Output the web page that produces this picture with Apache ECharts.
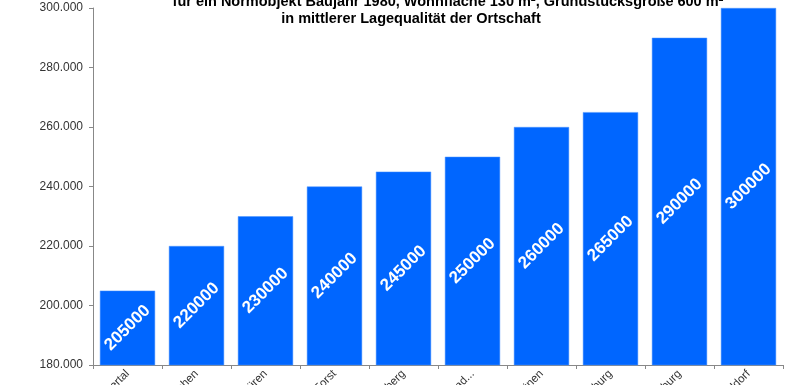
<!DOCTYPE html>
<html>
<head>
<meta charset="utf-8">
<script src="https://cdn.jsdelivr.net/npm/echarts@6/dist/echarts.min.js"></script>
<style>html,body{margin:0;padding:0;background:#fff}#c{width:795px;height:385px}</style>
</head>
<body>
<div id="c"></div>
<script>
var titleLine1 = 'für ein Normobjekt Baujahr 1980, Wohnfläche 130 m², Grundstücksgröße 600 m²';
var titleLine2 = 'in mittlerer Lagequalität der Ortschaft';
var categories = ['Lautertal', 'Kirchen', 'Düren', 'Forst', 'Kronberg', 'Schwalbach-Bad...', 'Lünen', 'Marburg', 'Oldenburg', 'Düsseldorf'];
var values = [205000, 220000, 230000, 240000, 245000, 250000, 260000, 265000, 290000, 300000];
var yMin = 180000, yMax = 300000, yStep = 20000;

function deFmt(v) {
  return String(v).replace(/\B(?=(\d{3})+(?!\d))/g, '.');
}

var chart = echarts.init(document.getElementById('c'), null, {renderer: 'canvas'});
chart.setOption({
  animation: false,
  backgroundColor: '#ffffff',
  title: [
    {text: titleLine1, left: 443, top: -11, textAlign: 'center',
     textStyle: {fontFamily: 'Liberation Sans, Arial', fontSize: 14.5, fontWeight: 'bold', color: '#000'}},
    {text: titleLine2, left: 406, top: 6, textAlign: 'center',
     textStyle: {fontFamily: 'Liberation Sans, Arial', fontSize: 14.5, fontWeight: 'bold', color: '#000'}}
  ],
  grid: {left: 93, right: 12, top: 8, bottom: 20, containLabel: false, outerBoundsMode: 'none'},
  xAxis: {
    type: 'category',
    data: categories,
    axisLine: {lineStyle: {color: '#888', width: 1}},
    axisTick: {show: true, length: 4, lineStyle: {color: '#888'}},
    axisLabel: {rotate: 45, margin: 7, fontFamily: 'Liberation Sans, Arial', fontSize: 11.5, color: '#333', interval: 0}
  },
  yAxis: {
    type: 'value',
    min: yMin, max: yMax, interval: yStep,
    splitLine: {show: false},
    axisLine: {show: true, lineStyle: {color: '#888', width: 1}},
    axisTick: {show: true, length: 4, lineStyle: {color: '#888'}},
    axisLabel: {margin: 10, fontFamily: 'Liberation Sans, Arial', fontSize: 12, color: '#333', formatter: deFmt}
  },
  series: [{
    type: 'bar',
    data: values,
    barCategoryGap: '20%',
    itemStyle: {color: '#0066ff', borderColor: '#4d94ff', borderWidth: 0.5},
    label: {
      show: true, position: 'inside', rotate: 45,
      color: '#ffffff', fontFamily: 'Liberation Sans, Arial', fontSize: 17, fontWeight: 'bold'
    }
  }]
});
</script>
</body>
</html>
